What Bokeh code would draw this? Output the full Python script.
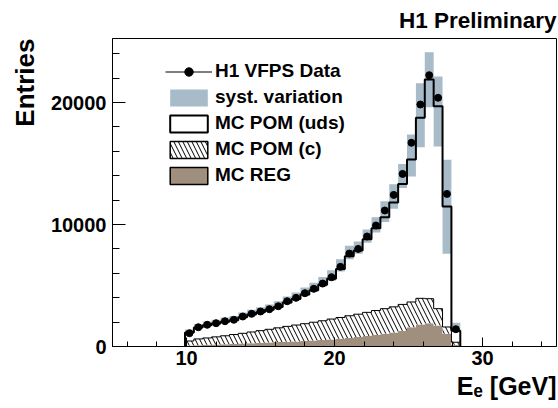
import numpy as np
from bokeh.plotting import figure
from bokeh.models import FixedTicker, Legend, LegendItem, Range1d, Title
from bokeh.embed import file_html
from bokeh.resources import INLINE

# ---- data ----
bin_lo = 9.9
bin_w = 0.6
data = [1090, 1580, 1780, 1910, 2070, 2190, 2460, 2680, 2870, 3060, 3300, 3710, 3990, 4370, 4730,
        5160, 5680, 6530, 7620, 8000, 9020, 9920, 11150, 12430, 14150, 16700, 19840, 22240, 20390,
        12510, 1420]
mc_reg = [80, 110, 140, 170, 190, 210, 240, 270, 300, 330, 360, 390, 420, 450, 490, 530, 570, 630,
          700, 780, 860, 950, 1040, 1150, 1300, 1580, 1800, 1910, 1720, 1040, 150]
mc_c = [370, 510, 560, 620, 690, 770, 840, 920, 1000, 1080, 1170, 1260, 1340, 1420, 1500, 1580,
        1680, 1750, 1820, 1870, 1940, 2000, 2060, 2100, 2150, 2070, 2150, 2010, 1380, 560, 200]
mc_uds = [700, 940, 1050, 1090, 1150, 1180, 1320, 1430, 1510, 1600, 1710, 1950, 2140, 2400, 2630,
          2950, 3310, 3970, 4880, 5220, 6000, 6750, 7500, 8550, 9880, 11680, 14800, 17970, 16600,
          9880, 950]
syst_lo = [1050, 1500, 1690, 1820, 1970, 2100, 2330, 2550, 2740, 2940, 3160, 3500, 3800, 4150, 4500,
           4920, 5400, 6150, 7150, 7600, 8500, 9350, 10200, 11300, 13000, 13930, 16340, 19610, 16390,
           7600, 1250]
syst_hi = [1400, 1850, 2050, 2200, 2370, 2500, 2780, 3010, 3220, 3440, 3700, 4100, 4420, 4830, 5220,
           5700, 6250, 7150, 8250, 8600, 9600, 10600, 11900, 13300, 14970, 17380, 21580, 24120, 22130,
           15300, 1950]
x_ticks = [10, 20, 30]
x_minor = [6, 8, 10, 12, 14, 16, 18, 20, 22, 24, 26, 28, 30, 32, 34]
y_ticks = [0, 10000, 20000]
y_minor = [0, 2000, 4000, 6000, 8000, 10000, 12000, 14000, 16000, 18000, 20000, 22000, 24000]
legend_labels = ["H1 VFPS Data", "syst. variation", "MC POM (uds)", "MC POM (c)", "MC REG"]

# ---- derived ----
n = len(data)
edges = bin_lo + bin_w * np.arange(n + 1)
centers = edges[:-1] + bin_w / 2
reg = np.array(mc_reg, float)
top_c = reg + np.array(mc_c, float)
total = top_c + np.array(mc_uds, float)

def ext(v):
    v = np.asarray(v, float)
    return np.append(v, v[-1])

def outline(v):
    v = np.asarray(v, float)
    return np.concatenate([[edges[0]], edges]), np.concatenate([[0.0], v, [0.0]])

BAND = "#a8bbc8"
BROWN = "#a08f7f"
FONT = "Liberation Sans"

W, H = 558, 408
BL, BR, BT, BB = 110, 2, 38, 62

p = figure(width=W, height=H, output_backend="svg", toolbar_location=None, tools="", title=None,
           x_range=Range1d(5, 35), y_range=Range1d(0, 25250),
           min_border_left=BL, min_border_right=BR, min_border_top=BT, min_border_bottom=BB)
p.xgrid.visible = False
p.ygrid.visible = False
p.outline_line_color = "black"
p.outline_line_width = 1
p.background_fill_color = "white"
p.border_fill_color = "white"

for ax in (p.xaxis[0], p.yaxis[0]):
    ax.major_label_text_font = FONT
    ax.major_label_text_font_style = "bold"
    ax.major_label_text_font_size = "20px"
    ax.major_label_text_color = "black"
    ax.axis_line_color = "black"
    ax.major_tick_line_color = "black"
    ax.minor_tick_line_color = "black"
    ax.major_tick_out = 0
    ax.minor_tick_out = 0
p.xaxis.ticker = FixedTicker(ticks=x_ticks, minor_ticks=x_minor)
p.yaxis.ticker = FixedTicker(ticks=y_ticks, minor_ticks=y_minor)
p.xaxis.major_tick_in = 9
p.xaxis.minor_tick_in = 5
p.yaxis.major_tick_in = 13
p.yaxis.minor_tick_in = 7
p.xaxis.major_label_standoff = 4
p.yaxis.major_label_standoff = 6

# stacked MC
p.varea_step(x=edges, y1=np.zeros(n + 1), y2=ext(reg), step_mode="after", fill_color=BROWN)
p.varea_step(x=edges, y1=ext(reg), y2=ext(top_c), step_mode="after", fill_color="white",
             hatch_pattern="\\", hatch_color="black", hatch_scale=9, hatch_weight=1)
cx, cy = outline(top_c)
p.step(x=cx, y=cy, mode="after", line_color="black", line_width=1)
# systematic band
p.varea_step(x=edges, y1=ext(syst_lo), y2=ext(syst_hi), step_mode="after", fill_color=BAND)
# total MC outline
tx, ty = outline(total)
p.step(x=tx, y=ty, mode="after", line_color="black", line_width=2)
# data
dots = p.scatter(x=centers, y=data, size=7, color="black")

# legend proxies (NaN data: not drawn in the frame)
nan = [float("nan")]
l_line = p.line(x=nan, y=nan, line_color="black", line_width=1.2)
l_band = p.quad(left=nan, right=nan, top=nan, bottom=nan, fill_color=BAND, line_color=None)
l_uds = p.quad(left=nan, right=nan, top=nan, bottom=nan, fill_color="white",
               line_color="black", line_width=2)
l_c = p.quad(left=nan, right=nan, top=nan, bottom=nan, fill_color="white", hatch_pattern="\\",
             hatch_color="black", hatch_scale=9, hatch_weight=1, line_color="black", line_width=1.5)
l_reg = p.quad(left=nan, right=nan, top=nan, bottom=nan, fill_color=BROWN,
               line_color="black", line_width=1.5)
legend = Legend(items=[LegendItem(label=legend_labels[0], renderers=[l_line, dots]),
                       LegendItem(label=legend_labels[1], renderers=[l_band]),
                       LegendItem(label=legend_labels[2], renderers=[l_uds]),
                       LegendItem(label=legend_labels[3], renderers=[l_c]),
                       LegendItem(label=legend_labels[4], renderers=[l_reg])],
                location=(53, 160), label_text_font=FONT, label_text_font_style="bold",
                label_text_font_size="19px", label_text_color="black",
                glyph_width=47, glyph_height=21, label_height=17, label_standoff=3, spacing=4,
                padding=0, margin=0, border_line_color=None, background_fill_alpha=0)
p.add_layout(legend)

def title(text, size, standoff):
    return Title(text=text, align="right", text_font=FONT, text_font_style="bold",
                 text_font_size=size, text_color="black", standoff=standoff)

p.add_layout(title("H1 Preliminary", "22.5px", 11), "above")
p.add_layout(title("Entries", "26px", 15), "left")
p.add_layout(title("E\u2091 [GeV]", "25px", 4), "below")

open("out.html", "w").write(file_html(p, INLINE))
